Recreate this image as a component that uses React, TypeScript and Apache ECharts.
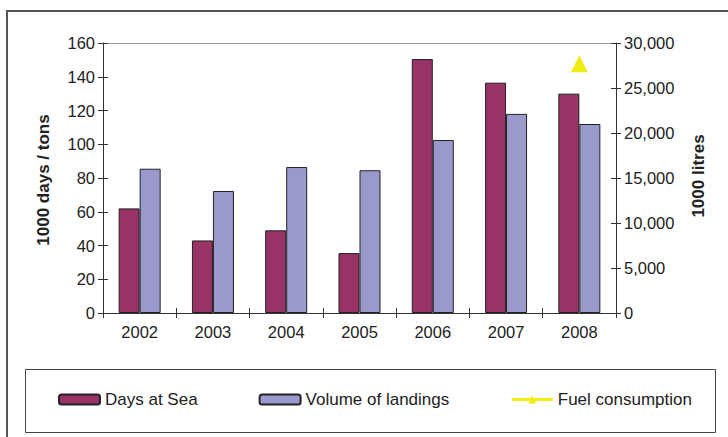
import React, { useEffect, useRef } from "react";
import * as echarts from "echarts";

const years = ["2002", "2003", "2004", "2005", "2006", "2007", "2008"];
const daysAtSea = [62, 43, 49, 35.5, 150.5, 136.5, 130];
const volumeOfLandings = [85.5, 72.3, 86.5, 84.6, 102.5, 118, 112];
const fuelConsumption = [null, null, null, null, null, null, 27700];
const leftTitle = "1000 days / tons";
const rightTitle = "1000 litres";

const FONT = "'Liberation Sans', Arial, sans-serif";
const TXT = "#222";

export default function App() {
  const ref = useRef<HTMLDivElement>(null);
  useEffect(() => {
    if (!ref.current) return;
    const chart = echarts.init(ref.current, null, { renderer: "svg" });
    const tickOut = { show: true, inside: false, length: 5, lineStyle: { color: "#333", width: 1 } };
    const tickIn = { show: true, inside: true, length: 5, lineStyle: { color: "#333", width: 1 } };
    chart.setOption({
      animation: false,
      textStyle: { fontFamily: FONT },
      grid: { left: 103, right: 112, top: 43, bottom: 124, containLabel: false },
      legend: {
        left: 58,
        top: 391,
        padding: 0,
        itemGap: 61,
        itemWidth: 41,
        itemHeight: 10,
        selectedMode: false,
        textStyle: { fontFamily: FONT, fontSize: 17, color: TXT },
        data: [
          { name: "Days at Sea" },
          { name: "Volume of landings" },
          { name: "Fuel consumption", lineStyle: { width: 3, color: "#F2EC14" } },
        ],
      },
      xAxis: [
        {
          type: "category",
          data: years,
          position: "bottom",
          axisLine: { show: true, lineStyle: { color: "#333", width: 1 } },
          axisTick: tickOut,
          axisLabel: { fontFamily: FONT, fontSize: 16.5, color: TXT, margin: 10 },
        },
        {
          type: "category",
          data: years,
          position: "bottom",
          axisLine: { show: false },
          axisTick: tickIn,
          axisLabel: { show: false },
        },
      ],
      yAxis: [
        {
          type: "value",
          min: 0,
          max: 160,
          interval: 20,
          position: "left",
          axisLine: { show: true, lineStyle: { color: "#333", width: 1 } },
          axisTick: tickOut,
          splitLine: { show: false },
          axisLabel: { fontFamily: FONT, fontSize: 16.5, color: TXT, margin: 8 },
        },
        {
          type: "value",
          min: 0,
          max: 30000,
          interval: 5000,
          position: "right",
          axisLine: { show: true, lineStyle: { color: "#333", width: 1 } },
          axisTick: tickOut,
          splitLine: { show: false },
          axisLabel: {
            fontFamily: FONT,
            fontSize: 16.5,
            color: TXT,
            margin: 8,
            formatter: (v: number) => v.toLocaleString("en-US"),
          },
        },
        {
          type: "value",
          min: 0,
          max: 160,
          interval: 20,
          position: "left",
          axisLine: { show: false },
          axisTick: tickIn,
          splitLine: { show: false },
          axisLabel: { show: false },
        },
        {
          type: "value",
          min: 0,
          max: 30000,
          interval: 5000,
          position: "right",
          axisLine: { show: false },
          axisTick: tickIn,
          splitLine: { show: false },
          axisLabel: { show: false },
        },
      ],
      series: [
        {
          name: "Days at Sea",
          type: "bar",
          data: daysAtSea,
          xAxisIndex: 0,
          yAxisIndex: 0,
          barWidth: 21,
          barGap: "0%",
          itemStyle: { color: "#993366", borderColor: "#222", borderWidth: 1 },
        },
        {
          name: "Volume of landings",
          type: "bar",
          data: volumeOfLandings,
          xAxisIndex: 0,
          yAxisIndex: 0,
          barWidth: 21,
          barGap: "0%",
          itemStyle: { color: "#9999CC", borderColor: "#222", borderWidth: 1 },
        },
        {
          name: "Fuel consumption",
          type: "line",
          data: fuelConsumption,
          xAxisIndex: 0,
          yAxisIndex: 1,
          symbol: "triangle",
          symbolSize: 17,
          showAllSymbol: true,
          lineStyle: { color: "#F2EC14", width: 3 },
          itemStyle: { color: "#F2EC14", borderWidth: 0 },
        },
      ],
      graphic: [
        {
          type: "rect",
          shape: { x: 7, y: 11, width: 740, height: 450 },
          style: { fill: "none", stroke: "#555", lineWidth: 2 },
          silent: true,
        },
        {
          type: "rect",
          shape: { x: 25.5, y: 369.5, width: 690, height: 63 },
          style: { fill: "none", stroke: "#444", lineWidth: 1 },
          silent: true,
        },
        {
          type: "line",
          shape: { x1: 103, y1: 43.5, x2: 616, y2: 43.5 },
          style: { stroke: "#999", lineWidth: 1 },
          silent: true,
        },
        {
          type: "text",
          x: 43,
          y: 180,
          rotation: Math.PI / 2,
          style: {
            text: leftTitle,
            font: `bold 17px ${FONT}`,
            fill: TXT,
            textAlign: "center",
            textVerticalAlign: "middle",
          },
        },
        {
          type: "text",
          x: 698,
          y: 176,
          rotation: Math.PI / 2,
          style: {
            text: rightTitle,
            font: `bold 17px ${FONT}`,
            fill: TXT,
            textAlign: "center",
            textVerticalAlign: "middle",
          },
        },
      ],
    });
    return () => chart.dispose();
  }, []);
  return (
    <div
      ref={ref}
      style={{ position: "fixed", left: 0, top: 0, width: 728, height: 437, background: "#fff" }}
    />
  );
}
